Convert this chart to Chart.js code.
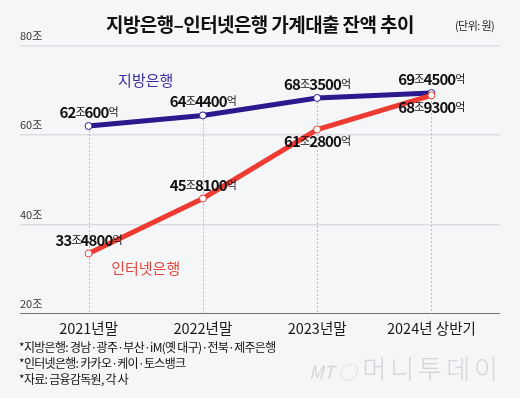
<!DOCTYPE html>
<html>
<head>
<meta charset="utf-8">
<script src="https://cdn.jsdelivr.net/npm/chart.js@4/dist/chart.umd.min.js"></script>
<style>
  html, body { margin: 0; padding: 0; background: #f5f6f8; }
  #wrap { position: relative; width: 520px; height: 398px; overflow: hidden; font-family: "Noto Sans CJK KR", sans-serif; }
  #chart { position: absolute; left: 0; top: 0; }
  .title { position: absolute; left: 106px; top: 10px; font-size: 19px; font-weight: 700; color: #111; letter-spacing: -0.6px; white-space: nowrap; }
  .unit { position: absolute; left: 455px; top: 17px; font-size: 11px; color: #222; letter-spacing: -0.6px; white-space: nowrap; }
  .note { position: absolute; left: 19px; font-size: 12px; color: #111; letter-spacing: -0.7px; white-space: nowrap; }
  .mark { position: absolute; left: 309px; top: 349px; font-size: 26px; font-weight: 300; color: #d4d5d8; letter-spacing: 4px; white-space: nowrap; }
  .mark i { font-size: 18px; font-weight: 400; letter-spacing: 0; margin-right: 6px; }
</style>
</head>
<body>
<div id="wrap">
  <canvas id="chart" width="520" height="398"></canvas>
  <div class="title">지방은행–인터넷은행 가계대출 잔액 추이</div>
  <div class="unit">(단위: 원)</div>
  <div class="note" style="top:338px">*지방은행: 경남·광주·부산·iM(옛 대구)·전북·제주은행</div>
  <div class="note" style="top:354px">*인터넷은행: 카카오·케이·토스뱅크</div>
  <div class="note" style="top:370px">*자료: 금융감독원, 각 사</div>
  <div class="mark"><i>MT ◯</i>머니투데이</div>
</div>
<script>
(function() {
    "use strict"

    var categories = ['2021년말', '2022년말', '2023년말', '2024년 상반기'];
    var localBank = [62.06, 64.44, 68.35, 69.45];
    var netBank = [33.48, 45.81, 61.28, 68.93];
    var localLabels = ['62조600억', '64조4400억', '68조3500억', '69조4500억'];
    var netLabels = ['33조4800억', '45조8100억', '61조2800억', '68조9300억'];
    var yTicks = [20, 40, 60, 80];

    var BLUE = '#2b1a8e';
    var RED = '#ee3b32';

    function toPoints(arr) {
        return arr.map(function (v, i) { return {x: i, y: v}; });
    }

    // dashed drop lines from the higher point down to the axis
    var dropLines = {
        id: 'dropLines',
        beforeDatasetsDraw: function (chart) {
            var ctx = chart.ctx, xs = chart.scales.x, ys = chart.scales.y;
            ctx.save();
            ctx.strokeStyle = '#b9bbc2';
            ctx.lineWidth = 1;
            ctx.setLineDash([2, 2]);
            categories.forEach(function (c, i) {
                var x = Math.round(xs.getPixelForValue(i)) + 0.5;
                var top = ys.getPixelForValue(Math.max(localBank[i], netBank[i]));
                ctx.beginPath();
                ctx.moveTo(x, top);
                ctx.lineTo(x, chart.chartArea.bottom);
                ctx.stroke();
            });
            ctx.restore();
        }
    };

    // value labels: numbers bold, 조/억 small
    function drawValue(ctx, text, cx, cy) {
        var parts = text.match(/[0-9]+|[^0-9]+/g);
        var big = '700 15px "Noto Sans CJK KR", sans-serif';
        var small = '400 11px "Noto Sans CJK KR", sans-serif';
        var sp = -0.9;
        var w = 0;
        parts.forEach(function (p) {
            ctx.font = /[0-9]/.test(p) ? big : small;
            w += ctx.measureText(p).width + sp * p.length;
        });
        var x = cx - w / 2;
        parts.forEach(function (p) {
            var isNum = /[0-9]/.test(p);
            ctx.font = isNum ? big : small;
            for (var k = 0; k < p.length; k++) {
                ctx.fillText(p[k], x, cy + (isNum ? 0 : -0.5));
                x += ctx.measureText(p[k]).width + sp;
            }
        });
    }

    var valueLabels = {
        id: 'valueLabels',
        afterDatasetsDraw: function (chart) {
            var ctx = chart.ctx;
            ctx.save();
            ctx.fillStyle = '#111';
            ctx.textAlign = 'left';
            ctx.textBaseline = 'middle';
            var localMeta = chart.getDatasetMeta(1).data;
            var netMeta = chart.getDatasetMeta(0).data;
            localLabels.forEach(function (t, i) {
                drawValue(ctx, t, localMeta[i].x, localMeta[i].y - 14);
            });
            netLabels.forEach(function (t, i) {
                var below = netBank[i] > 50;
                drawValue(ctx, t, netMeta[i].x, netMeta[i].y + (below ? 12 : -13));
            });
            // series names
            ctx.font = '400 15px "Noto Sans CJK KR", sans-serif';
            ctx.textAlign = 'center';
            var xs = chart.scales.x, ys = chart.scales.y;
            ctx.fillStyle = '#3a2c9c';
            ctx.fillText('지방은행', xs.getPixelForValue(0.5), ys.getPixelForValue(72.2));
            ctx.fillStyle = '#e3463d';
            ctx.fillText('인터넷은행', xs.getPixelForValue(0.5), ys.getPixelForValue(30.2));
            ctx.restore();
        }
    };

    var ctx = document.getElementById('chart').getContext('2d');

    new Chart(ctx, {
        type: 'line',
        data: {
            datasets: [{
                label: '인터넷은행',
                data: toPoints(netBank),
                borderColor: RED,
                borderWidth: 5,
                pointRadius: 3.5,
                pointBackgroundColor: '#ffffff',
                pointBorderColor: RED,
                pointBorderWidth: 1,
                fill: false,
                tension: 0
            }, {
                label: '지방은행',
                data: toPoints(localBank),
                borderColor: BLUE,
                borderWidth: 5,
                pointRadius: 3.5,
                pointBackgroundColor: '#ffffff',
                pointBorderColor: BLUE,
                pointBorderWidth: 1,
                fill: false,
                tension: 0
            }]
        },
        options: {
            responsive: false,
            animation: false,
            layout: { padding: { left: 20, right: 20, top: 46, bottom: 55 } },
            plugins: {
                legend: { display: false },
                tooltip: { enabled: false }
            },
            scales: {
                x: {
                    type: 'linear',
                    min: -0.6,
                    max: 3.6,
                    afterBuildTicks: function (s) {
                        s.ticks = categories.map(function (c, i) { return {value: i}; });
                    },
                    grid: { display: false, drawTicks: false },
                    border: { display: false },
                    ticks: {
                        autoSkip: false,
                        maxRotation: 0,
                        padding: 6,
                        color: '#1a1a1a',
                        font: { family: '"Noto Sans CJK KR", sans-serif', size: 14.5 },
                        callback: function (v) { return categories[v]; }
                    }
                },
                y: {
                    min: 20,
                    max: 80,
                    afterBuildTicks: function (s) {
                        s.ticks = yTicks.map(function (v) { return {value: v}; });
                    },
                    grid: {
                        drawTicks: false,
                        lineWidth: function (c) { return c.tick && c.tick.value === 20 ? 1 : 1.5; },
                        color: function (c) { return c.tick && c.tick.value === 20 ? '#6f7075' : '#dcdde2'; }
                    },
                    border: { display: false },
                    ticks: {
                        mirror: true,
                        padding: 0,
                        labelOffset: -10,
                        color: '#333',
                        font: { family: '"Noto Sans CJK KR", sans-serif', size: 11 },
                        callback: function (v) { return v + '조'; }
                    }
                }
            }
        },
        plugins: [dropLines, valueLabels]
    });
})();
</script>
</body>
</html>
